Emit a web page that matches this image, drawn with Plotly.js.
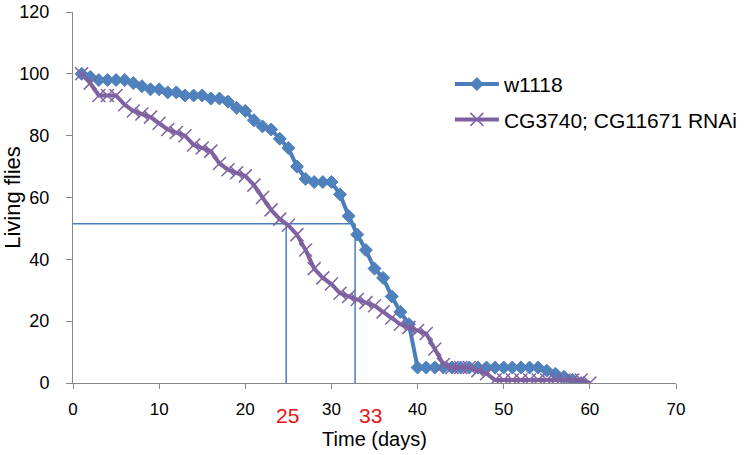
<!DOCTYPE html>
<html>
<head>
<meta charset="utf-8">
<script src="https://cdn.plot.ly/plotly-3.0.1.min.js"></script>
<style>html,body{margin:0;padding:0;background:#fff;}#chart{width:747px;height:455px;}</style>
</head>
<body>
<div id="chart"></div>
<script>
// Series: w1118
const w1118Days = [1,2,3,4,5,6,7,8,9,10,11,12,13,14,15,16,17,18,19,20,21,22,23,24,25,26,27,28,29,30,31,32,33,34,35,36,37,38,39,40,41,42,43,44,45,46,47,48,49,50,51,52,53,54,55,56,57,58,59];
const w1118Alive = [100,99,98,98,98,98,97,96,95,95,94,94,93,93,93,92,92,91,89,88,85,83,82,79,76,70,66,65,65,65,61,54,48,43,37,34,28,23,19,5,5,5,5,5,5,5,5,5,5,5,5,5,5,5,4,3,2,1,0];
// Series: CG3740; CG11671 RNAi
const rnaiDays = [1,2,3,4,5,6,7,8,9,10,11,12,13,14,15,16,17,18,19,20,21,22,23,24,25,26,27,28,29,30,31,32,33,34,35,36,37,38,39,40,41,42,43,44,45,46,47,48,49,50,51,52,53,54,55,56,57,58,59,60];
const rnaiAlive = [100,97,93,93,93,90,88,87,86,84,82,81,80,77,76,75,71,69,68,67,64,60,56,53,51,48,43,37,34,32,29,28,27,26,25,23,21,19,18,17,16,11,6,5,5,5,4,3,1,1,1,1,1,1,1,1,1,1,1,0];
const seriesNames = ["w1118", "CG3740; CG11671 RNAi"];
// Median-lifespan guide lines (days where each curve crosses the level)
const medianLevel = 51.5;
const medianDays = [24.75, 32.75];
const medianLabels = ["25", "33"];
const medianLabelX = [24.9, 34.5];
// Axes
const xTicks = [0,10,20,30,40,50,60,70];
const yTicks = [0,20,40,60,80,100,120];

const FONT = "Liberation Sans, Arial, sans-serif";
const blue = "#4A7EBB", blueM = "#4F81BD", purple = "#7D60A0", purpleM = "#8064A2";

const traces = [
  {x: w1118Days, y: w1118Alive, name: seriesNames[0], type: "scatter", mode: "lines+markers",
   line: {color: blue, width: 4}, legendgroup: "a",
   marker: {symbol: "diamond", size: 10, color: blueM, line: {color: blueM, width: 1}}},
  {x: rnaiDays, y: rnaiAlive, name: seriesNames[1], type: "scatter", mode: "lines+markers",
   line: {color: purple, width: 4}, legendgroup: "b",
   marker: {symbol: "x-thin", size: 13, color: purpleM, line: {color: purpleM, width: 1.5}}}
];

const shapes = [
  {type: "line", xref: "x", yref: "y", x0: 0, x1: medianDays[1], y0: medianLevel, y1: medianLevel,
   line: {color: blue, width: 1.5}, layer: "below"}
];
medianDays.forEach(d => shapes.push({type: "line", xref: "x", yref: "y", x0: d, x1: d, y0: 0, y1: medianLevel,
   line: {color: blue, width: 1.5}, layer: "below"}));

const annotations = medianLabels.map((t, i) => ({
  text: t, x: medianLabelX[i], xref: "x", y: -0.087, yref: "paper", yanchor: "middle", xanchor: "center",
  showarrow: false, font: {family: FONT, size: 21, color: "#E8121A"}
}));

const layout = {
  width: 747, height: 455,
  margin: {l: 73, r: 71, t: 12, b: 72, autoexpand: false},
  paper_bgcolor: "#fff", plot_bgcolor: "#fff",
  font: {family: FONT, color: "#000"},
  showlegend: true,
  legend: {x: 0.625, y: 0.86, xanchor: "left", yanchor: "top", font: {family: FONT, size: 21, color: "#000"},
           bgcolor: "rgba(0,0,0,0)", tracegroupgap: 5, itemwidth: 44},
  xaxis: {range: [0, 70], tickvals: xTicks, ticks: "outside", ticklen: 5, tickcolor: "#868686",
          showline: true, linecolor: "#868686", linewidth: 1, showgrid: false, zeroline: false,
          tickfont: {family: FONT, size: 17, color: "#000"}, ticklabelstandoff: 6,
          title: {text: "Time (days)", font: {family: FONT, size: 20, color: "#000"}, standoff: 13}},
  yaxis: {range: [0, 120], tickvals: yTicks, ticks: "outside", ticklen: 6, tickcolor: "#868686",
          showline: true, linecolor: "#868686", linewidth: 1, showgrid: false, zeroline: false,
          tickfont: {family: FONT, size: 18, color: "#000"}, ticklabelstandoff: 13,
          title: {text: "Living flies", font: {family: FONT, size: 22, color: "#000"}, standoff: 0}},
  shapes: shapes,
  annotations: annotations
};

Plotly.newPlot("chart", traces, layout, {displayModeBar: false, staticPlot: true});
</script>
</body>
</html>
